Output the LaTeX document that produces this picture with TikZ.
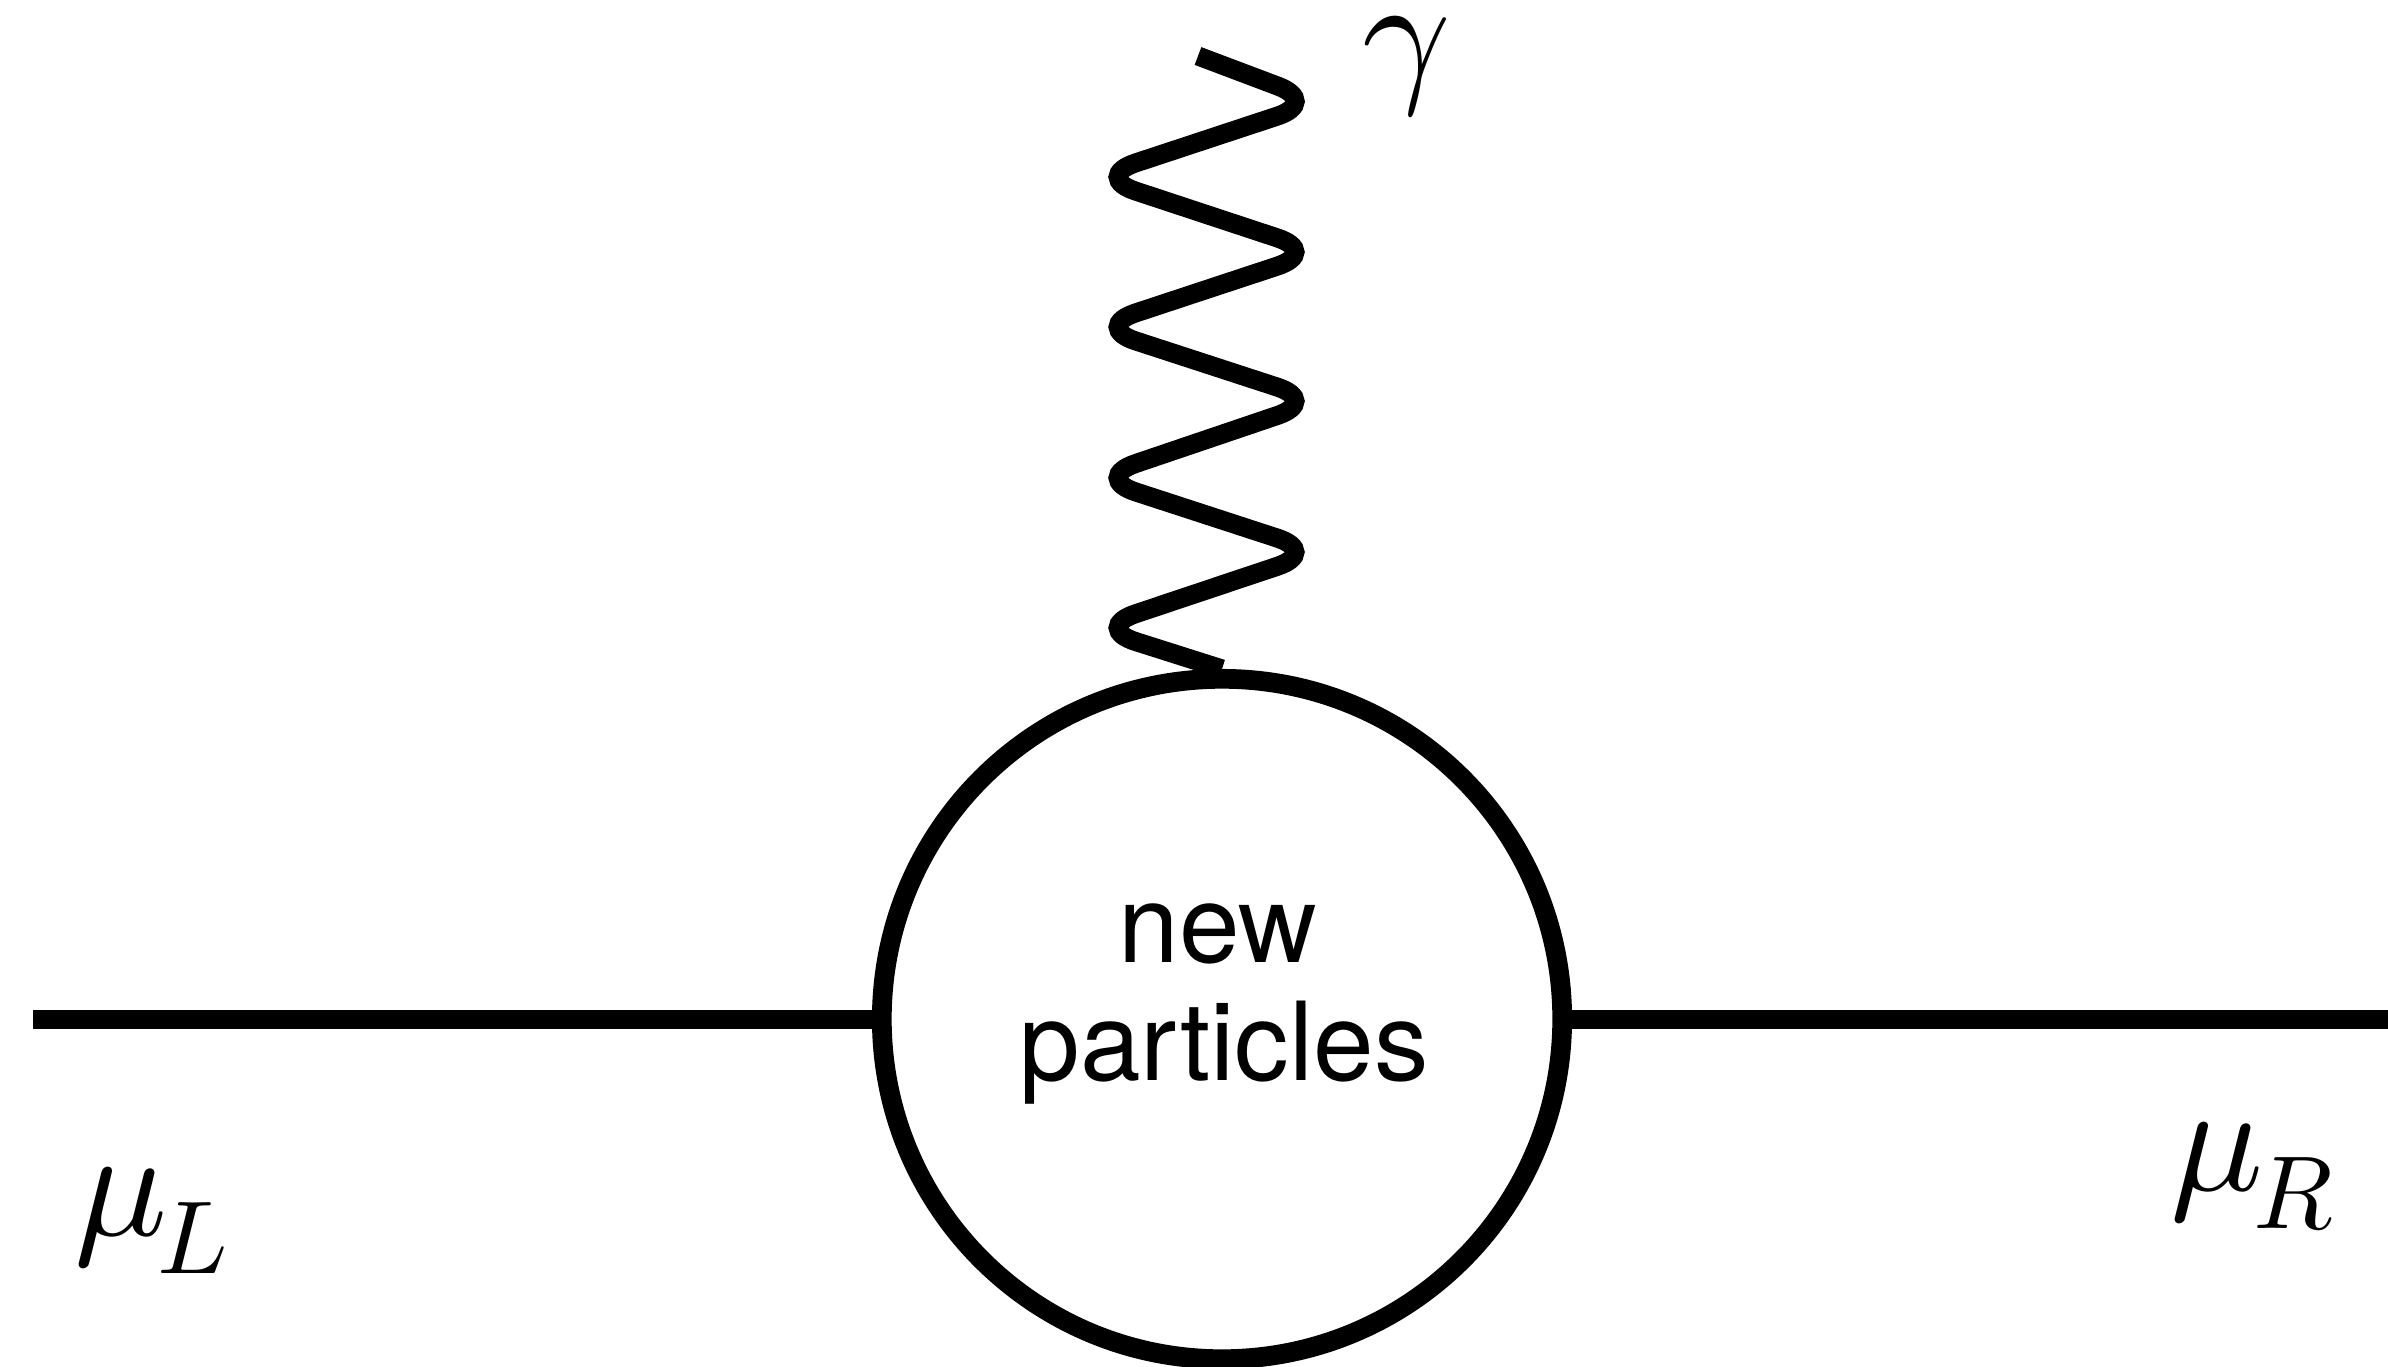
\documentclass[tikz,border=0pt]{standalone}
\usepackage{graphicx}
\usepackage{fontspec}
\newfontfamily\helv{TeX Gyre Heros}
\begin{document}
\begin{tikzpicture}[x=0.01cm,y=-0.01cm,
  fermion/.style={line width=5.4pt},
  blobstyle/.style={circle,draw,line width=5.6pt,minimum size=6.8cm,inner sep=0pt},
  photon/.style={line width=5.4pt,rounded corners=0.45cm},
  lbl/.style={inner sep=0pt,anchor=base west},
  txt/.style={inner sep=0pt,anchor=base,font=\helv\fontsize{31}{36}\selectfont}]
\useasboundingbox (0,0) rectangle (2388,1366);
\node (blob) [blobstyle] at (1222,1019) {};
\coordinate (lstart) at (33,1019);
\coordinate (rend) at (2388,1019);
\coordinate (gtop) at (1198,56);
\draw[fermion] (lstart) -- (blob.west);
\draw[fermion] (blob.east) -- (rend);
\draw[photon] (gtop) -- (1320,102) -- (1093,177) -- (1320,252) -- (1093,327)
  -- (1320,401) -- (1093,478) -- (1320,552) -- (1093,628) -- (blob.north);
\node (np1) [txt] at (1218,962) {new};
\node (np2) [txt] at (1224,1080) {particles};
\node (gam) [lbl] at (1362,84) {\scalebox{4.4}{$\gamma$}};
\node (muL) [lbl] at (74,1235) {\scalebox{4.4}{$\mu$}\kern-3pt\raisebox{-10.8pt}{\scalebox{2.95}{$L$}}};
\node (muR) [lbl] at (2170,1190) {\scalebox{4.4}{$\mu$}\kern-3pt\raisebox{-10.8pt}{\scalebox{2.95}{$R$}}};
\end{tikzpicture}
\end{document}
